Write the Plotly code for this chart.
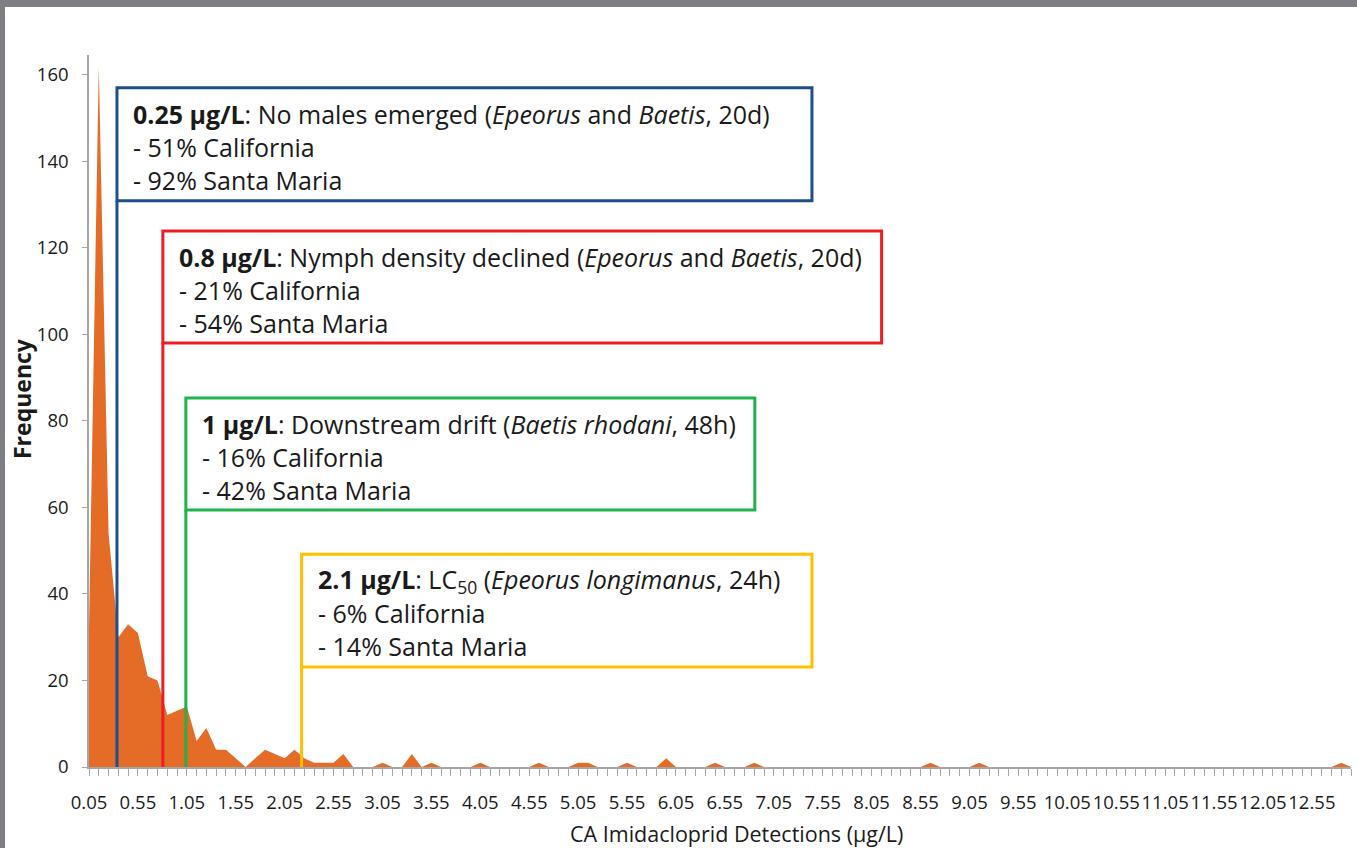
import plotly.graph_objects as go

# ---- data -------------------------------------------------------------
# bin centres of the imidacloprid-detection histogram (µg/L), 0.1 wide
bin_centers = [round(0.05 + 0.1 * i, 2) for i in range(130)]

frequency = [
    32, 162, 54, 30, 33, 31, 21, 20, 12, 13,     # 0.05 - 0.95
    14, 6, 9, 4, 4, 2, 0, 2, 4, 3,               # 1.05 - 1.95
    2, 4, 2, 1, 1, 1, 3, 0, 0, 0,                # 2.05 - 2.95
    1, 0, 0, 3, 0, 1, 0, 0, 0, 0,                # 3.05 - 3.95
    1, 0, 0, 0, 0, 0, 1, 0, 0, 0,                # 4.05 - 4.95
    1, 1, 0, 0, 0, 1, 0, 0, 0, 2,                # 5.05 - 5.95
    0, 0, 0, 0, 1, 0, 0, 0, 1, 0,                # 6.05 - 6.95
    0, 0, 0, 0, 0, 0, 0, 0, 0, 0,                # 7.05 - 7.95
    0, 0, 0, 0, 0, 0, 1, 0, 0, 0,                # 8.05 - 8.95
    0, 1, 0, 0, 0, 0, 0, 0, 0, 0,                # 9.05 - 9.95
    0, 0, 0, 0, 0, 0, 0, 0, 0, 0,                # 10.05 - 10.95
    0, 0, 0, 0, 0, 0, 0, 0, 0, 0,                # 11.05 - 11.95
    0, 0, 0, 0, 0, 0, 0, 0, 1, 0,                # 12.05 - 12.95
]

x_tick_labels = ["0.05", "0.55", "1.05", "1.55", "2.05", "2.55", "3.05", "3.55",
                 "4.05", "4.55", "5.05", "5.55", "6.05", "6.55", "7.05", "7.55",
                 "8.05", "8.55", "9.05", "9.55", "10.05", "10.55", "11.05",
                 "11.55", "12.05", "12.55"]
y_tick_values = [0, 20, 40, 60, 80, 100, 120, 140, 160]

box_colors = ["#1F4E8C", "#EE1C25", "#22B14C", "#FFC000"]
box_headlines = [
    "<b>0.25 µg/L</b>: No males emerged (<i>Epeorus</i> and <i>Baetis</i>, 20d)",
    "<b>0.8 µg/L</b>: Nymph density declined (<i>Epeorus</i> and <i>Baetis</i>, 20d)",
    "<b>1 µg/L</b>: Downstream drift (<i>Baetis rhodani</i>, 48h)",
    "<b>2.1 µg/L</b>: LC<sub>50</sub> (<i>Epeorus longimanus</i>, 24h)",
]
box_california = ["- 51% California", "- 21% California", "- 16% California", "- 6% California"]
box_santa_maria = ["- 92% Santa Maria", "- 54% Santa Maria", "- 42% Santa Maria", "- 14% Santa Maria"]

# box geometry (axis units): left edge / right edge / bottom / top
box_left = [0.336, 0.805, 1.04, 2.223]
box_right = [7.44, 8.152, 6.856, 7.44]
box_bottom = [130.9, 98.0, 59.4, 23.1]
box_top = [157.0, 123.9, 85.3, 49.2]

FONT = "Open Sans"
AXIS_GREY = "#A6A6A6"
TEXT = "#1a1a1a"
FRAME = "#7F7F83"

fig = go.Figure()
fig.add_trace(go.Scatter(
    x=bin_centers, y=frequency, mode="lines", fill="tozeroy",
    line=dict(width=0, color="#E46C26"), fillcolor="#E46C26",
    hoverinfo="skip", showlegend=False,
))

px_x = 1.0 / 98.0     # axis units per pixel (x)
px_y = 1.0 / 4.325    # axis units per pixel (y)

for i, col in enumerate(box_colors):
    fig.add_shape(type="rect", xref="x", yref="y",
                  x0=box_left[i], x1=box_right[i], y0=box_bottom[i], y1=box_top[i],
                  line=dict(color=col, width=3), fillcolor="rgba(255,255,255,0)")
    fig.add_shape(type="line", xref="x", yref="y",
                  x0=box_left[i], x1=box_left[i], y0=0, y1=box_bottom[i],
                  line=dict(color=col, width=3))
    tx = box_left[i] + 14 * px_x
    for k, txt in enumerate([box_headlines[i], box_california[i], box_santa_maria[i]]):
        fig.add_annotation(x=tx, y=box_top[i] - (26 + 33 * k) * px_y, xref="x", yref="y",
                           text=txt, showarrow=False, xanchor="left", yanchor="middle",
                           align="left", font=dict(family=FONT, size=25, color=TEXT))

# gray frame strips of the original screenshot (top and left)
fig.add_shape(type="rect", xref="paper", yref="paper", x0=-0.2, x1=1.2,
              y0=1 + 48 / 712, y1=1.3, line=dict(width=0), fillcolor=FRAME, layer="above")
fig.add_shape(type="rect", xref="paper", yref="paper", x0=-0.2, x1=-84 / 1262,
              y0=-0.3, y1=1.3, line=dict(width=0), fillcolor=FRAME, layer="above")

# axis titles
fig.add_annotation(x=(737 - 89) / 1262, y=(767 - 833) / 712, xref="paper", yref="paper",
                   text="CA Imidacloprid Detections (µg/L)", showarrow=False,
                   xanchor="center", yanchor="middle",
                   font=dict(family=FONT, size=21.5, color=TEXT))
fig.add_annotation(x=(22 - 89) / 1262, y=(767 - 399) / 712, xref="paper", yref="paper",
                   text="<b>Frequency</b>", showarrow=False, textangle=-90,
                   xanchor="center", yanchor="middle",
                   font=dict(family=FONT, size=23, color=TEXT))

fig.update_layout(
    width=1357, height=848,
    margin=dict(l=89, r=6, t=55, b=81),
    paper_bgcolor="white", plot_bgcolor="white",
    font=dict(family=FONT, color=TEXT),
    xaxis=dict(
        range=[0.05, 12.95], showgrid=False, zeroline=False,
        showline=True, linecolor=AXIS_GREY, linewidth=1.5,
        tickmode="array", tickvals=[float(t) for t in x_tick_labels], ticktext=x_tick_labels,
        tickangle=0,
        ticks="outside", ticklen=7, tickcolor=AXIS_GREY, tickwidth=1.3,
        minor=dict(dtick=0.1, tick0=0.05, ticks="outside", ticklen=7,
                   tickcolor=AXIS_GREY, tickwidth=1.3, showgrid=False),
        tickfont=dict(family=FONT, size=18.5, color=TEXT), ticklabelstandoff=11,
    ),
    yaxis=dict(
        range=[0, 164.6], showgrid=False, zeroline=False,
        showline=True, linecolor=AXIS_GREY, linewidth=1.5,
        tickmode="array", tickvals=y_tick_values,
        ticks="outside", ticklen=5, tickcolor=AXIS_GREY, tickwidth=1.3,
        tickfont=dict(family=FONT, size=18.5, color=TEXT), ticklabelstandoff=10,
    ),
)

fig.write_html("out.html", config={"displayModeBar": False},
               post_script="document.body.style.margin='0px';")
